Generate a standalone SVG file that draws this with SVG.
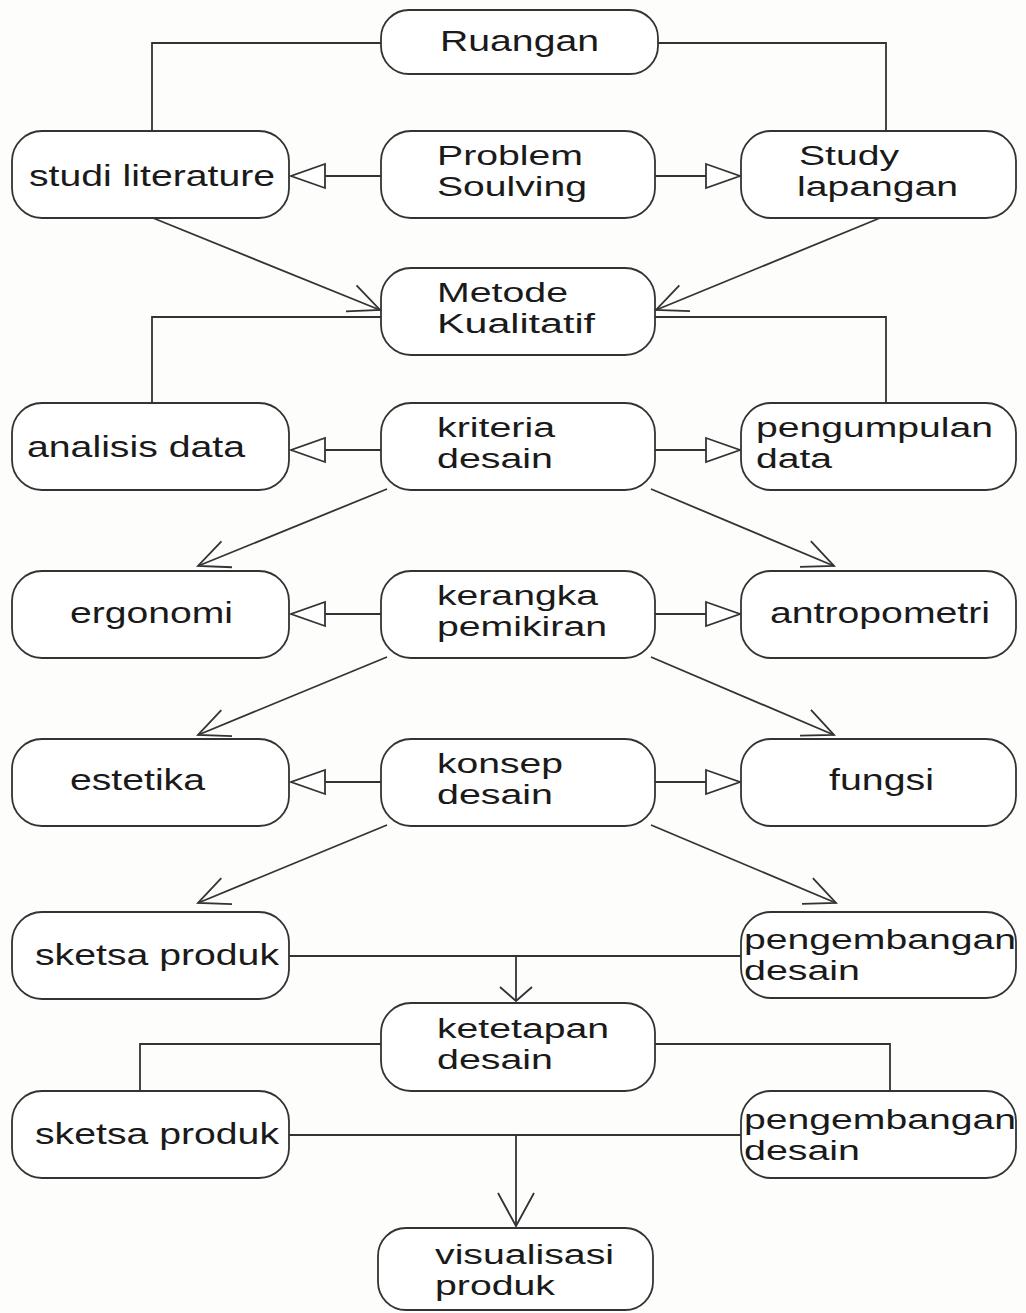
<svg xmlns="http://www.w3.org/2000/svg" width="1026" height="1313" viewBox="0 0 1026 1313">
<style>
.box{fill:#ffffff;stroke:#333333;stroke-width:1.8}
.t{font-family:"Liberation Sans",Arial,sans-serif;font-size:29px;fill:#1a1a1a}
.t2{font-family:"Liberation Sans",Arial,sans-serif;font-size:27px;fill:#1a1a1a}
.ln{fill:none;stroke:#333333;stroke-width:1.8}
.arr{marker-end:url(#open)}
.tri{marker-end:url(#tri)}
</style>
<defs>
<marker id="open" markerUnits="userSpaceOnUse" markerWidth="50" markerHeight="50" viewBox="-40 -25 50 50" refX="0" refY="0" orient="auto">
<path d="M-31,-14 L0,0 L-31,14" fill="none" stroke="#333333" stroke-width="1.8"/>
</marker>
<marker id="tri" markerUnits="userSpaceOnUse" markerWidth="50" markerHeight="50" viewBox="-40 -25 50 50" refX="0" refY="0" orient="auto">
<path d="M-34,-12 L0,0 L-34,12 Z" fill="#ffffff" stroke="#333333" stroke-width="1.8"/>
</marker>
<marker id="wide" markerUnits="userSpaceOnUse" markerWidth="50" markerHeight="50" viewBox="-40 -25 50 50" refX="0" refY="0" orient="auto">
<path d="M-14,-16 L0,0 L-14,16" fill="none" stroke="#333333" stroke-width="1.8"/>
</marker>
<marker id="long" markerUnits="userSpaceOnUse" markerWidth="50" markerHeight="50" viewBox="-40 -25 50 50" refX="0" refY="0" orient="auto">
<path d="M-33,-18 L0,0 L-33,18" fill="none" stroke="#333333" stroke-width="1.8"/>
</marker>
</defs>
<rect x="0" y="0" width="1026" height="1313" fill="#fdfdfb"/>

<g id="connectors">
<polyline class="ln" points="381,43 152,43 152,131"/>
<polyline class="ln" points="658,43 886,43 886,131"/>
<line class="ln tri" x1="381" y1="176" x2="291" y2="176"/>
<line class="ln tri" x1="655" y1="176" x2="740" y2="176"/>
<line class="ln arr" x1="153" y1="218" x2="380" y2="310"/>
<line class="ln arr" x1="880" y1="218" x2="656" y2="310"/>
<polyline class="ln" points="381,317 152,317 152,403"/>
<polyline class="ln" points="655,317 886,317 886,403"/>
<line class="ln tri" x1="381" y1="450" x2="291" y2="450"/>
<line class="ln tri" x1="655" y1="450" x2="740" y2="450"/>
<line class="ln arr" x1="387" y1="489" x2="198" y2="566"/>
<line class="ln arr" x1="651" y1="489" x2="834" y2="566"/>
<line class="ln tri" x1="381" y1="614" x2="291" y2="614"/>
<line class="ln tri" x1="655" y1="614" x2="740" y2="614"/>
<line class="ln arr" x1="387" y1="657" x2="198" y2="735"/>
<line class="ln arr" x1="651" y1="657" x2="834" y2="735"/>
<line class="ln tri" x1="381" y1="782" x2="291" y2="782"/>
<line class="ln tri" x1="655" y1="782" x2="740" y2="782"/>
<line class="ln arr" x1="387" y1="825" x2="198" y2="903"/>
<line class="ln arr" x1="651" y1="825" x2="836" y2="903"/>
<line class="ln" x1="289" y1="956" x2="741" y2="956"/>
<line class="ln" x1="516" y1="956" x2="516" y2="1001" marker-end="url(#wide)"/>
<polyline class="ln" points="381,1044 140,1044 140,1091"/>
<polyline class="ln" points="654,1044 890,1044 890,1091"/>
<line class="ln" x1="289" y1="1135" x2="741" y2="1135"/>
<line class="ln" x1="516" y1="1135" x2="516" y2="1226" marker-end="url(#long)"/>
</g>

<g id="ruangan"><rect class="box" x="381" y="10" width="277" height="64" rx="28"/><text class="t" x="440" y="51" textLength="159" lengthAdjust="spacingAndGlyphs">Ruangan</text></g>

<g id="studi-literature"><rect class="box" x="12" y="131" width="277" height="87" rx="30"/><text class="t" x="29" y="186" textLength="246" lengthAdjust="spacingAndGlyphs">studi literature</text></g>
<g id="problem-soulving"><rect class="box" x="381" y="131" width="274" height="87" rx="30"/><text class="t2" x="437" y="165" textLength="146" lengthAdjust="spacingAndGlyphs">Problem</text><text class="t2" x="437" y="196" textLength="150" lengthAdjust="spacingAndGlyphs">Soulving</text></g>
<g id="study-lapangan"><rect class="box" x="741" y="131" width="275" height="87" rx="30"/><text class="t2" x="799" y="165" textLength="100" lengthAdjust="spacingAndGlyphs">Study</text><text class="t2" x="797" y="196" textLength="161" lengthAdjust="spacingAndGlyphs">lapangan</text></g>

<g id="metode-kualitatif"><rect class="box" x="381" y="268" width="274" height="87" rx="30"/><text class="t2" x="437" y="302" textLength="131" lengthAdjust="spacingAndGlyphs">Metode</text><text class="t2" x="437" y="333" textLength="158" lengthAdjust="spacingAndGlyphs">Kualitatif</text></g>

<g id="analisis-data"><rect class="box" x="12" y="403" width="277" height="87" rx="30"/><text class="t" x="27" y="457" textLength="218" lengthAdjust="spacingAndGlyphs">analisis data</text></g>
<g id="kriteria-desain"><rect class="box" x="381" y="403" width="274" height="87" rx="30"/><text class="t2" x="437" y="437" textLength="118" lengthAdjust="spacingAndGlyphs">kriteria</text><text class="t2" x="437" y="468" textLength="116" lengthAdjust="spacingAndGlyphs">desain</text></g>
<g id="pengumpulan-data"><rect class="box" x="741" y="403" width="275" height="87" rx="30"/><text class="t2" x="756" y="437" textLength="237" lengthAdjust="spacingAndGlyphs">pengumpulan</text><text class="t2" x="756" y="468" textLength="76" lengthAdjust="spacingAndGlyphs">data</text></g>

<g id="ergonomi"><rect class="box" x="12" y="571" width="277" height="87" rx="30"/><text class="t" x="70" y="623" textLength="163" lengthAdjust="spacingAndGlyphs">ergonomi</text></g>
<g id="kerangka-pemikiran"><rect class="box" x="381" y="571" width="274" height="87" rx="30"/><text class="t2" x="437" y="605" textLength="161" lengthAdjust="spacingAndGlyphs">kerangka</text><text class="t2" x="437" y="636" textLength="170" lengthAdjust="spacingAndGlyphs">pemikiran</text></g>
<g id="antropometri"><rect class="box" x="741" y="571" width="275" height="87" rx="30"/><text class="t" x="770" y="623" textLength="220" lengthAdjust="spacingAndGlyphs">antropometri</text></g>

<g id="estetika"><rect class="box" x="12" y="739" width="277" height="87" rx="30"/><text class="t" x="70" y="790" textLength="135" lengthAdjust="spacingAndGlyphs">estetika</text></g>
<g id="konsep-desain"><rect class="box" x="381" y="739" width="274" height="87" rx="30"/><text class="t2" x="437" y="773" textLength="126" lengthAdjust="spacingAndGlyphs">konsep</text><text class="t2" x="437" y="804" textLength="116" lengthAdjust="spacingAndGlyphs">desain</text></g>
<g id="fungsi"><rect class="box" x="741" y="739" width="275" height="87" rx="30"/><text class="t" x="829" y="790" textLength="105" lengthAdjust="spacingAndGlyphs">fungsi</text></g>

<g id="sketsa-produk-1"><rect class="box" x="12" y="912" width="277" height="87" rx="30"/><text class="t" x="35" y="965" textLength="244" lengthAdjust="spacingAndGlyphs">sketsa produk</text></g>
<g id="pengembangan-desain-1"><rect class="box" x="741" y="912" width="275" height="86" rx="30"/><text class="t2" x="744" y="949" textLength="272" lengthAdjust="spacingAndGlyphs">pengembangan</text><text class="t2" x="744" y="980" textLength="116" lengthAdjust="spacingAndGlyphs">desain</text></g>

<g id="ketetapan-desain"><rect class="box" x="381" y="1003" width="274" height="88" rx="30"/><text class="t2" x="437" y="1038" textLength="172" lengthAdjust="spacingAndGlyphs">ketetapan</text><text class="t2" x="437" y="1069" textLength="116" lengthAdjust="spacingAndGlyphs">desain</text></g>

<g id="sketsa-produk-2"><rect class="box" x="12" y="1091" width="277" height="87" rx="30"/><text class="t" x="35" y="1144" textLength="244" lengthAdjust="spacingAndGlyphs">sketsa produk</text></g>
<g id="pengembangan-desain-2"><rect class="box" x="741" y="1091" width="275" height="87" rx="30"/><text class="t2" x="744" y="1129" textLength="272" lengthAdjust="spacingAndGlyphs">pengembangan</text><text class="t2" x="744" y="1160" textLength="116" lengthAdjust="spacingAndGlyphs">desain</text></g>

<g id="visualisasi-produk"><rect class="box" x="378" y="1228" width="275" height="82" rx="28"/><text class="t2" x="435" y="1264" textLength="179" lengthAdjust="spacingAndGlyphs">visualisasi</text><text class="t2" x="435" y="1295" textLength="120" lengthAdjust="spacingAndGlyphs">produk</text></g>
</svg>
